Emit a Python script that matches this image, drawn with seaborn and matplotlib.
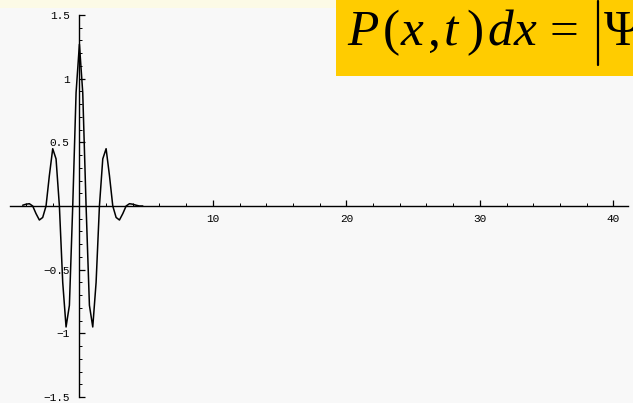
import numpy as np
import matplotlib
matplotlib.use('Agg')
import matplotlib.pyplot as plt
import seaborn as sns
from matplotlib.patches import Rectangle
from matplotlib.lines import Line2D
from matplotlib.ticker import FixedLocator, MultipleLocator, FixedFormatter

# wave packet values
x_vals = [-4.25, -4.0, -3.75, -3.5, -3.25, -3.0, -2.75, -2.5, -2.25, -2.0,
          -1.75, -1.5, -1.25, -1.0, -0.75, -0.5, -0.25, 0.0, 0.25, 0.5,
          0.75, 1.0, 1.25, 1.5, 1.75, 2.0, 2.25, 2.5, 2.75, 3.0,
          3.25, 3.5, 3.75, 4.0, 4.25, 4.5, 4.75]
y_vals = [0.006, 0.014, 0.018, 0.0, -0.06, -0.11, -0.09, 0.0, 0.24, 0.45,
          0.37, 0.0, -0.60, -0.95, -0.78, 0.0, 0.89, 1.27, 0.89, 0.0,
          -0.78, -0.95, -0.60, 0.0, 0.37, 0.45, 0.24, 0.0, -0.09, -0.11,
          -0.06, 0.0, 0.018, 0.014, 0.006, 0.0, 0.0]

x_major = [10, 20, 30, 40]
x_labels = ['10', '20', '30', '40']
y_major = [-1.5, -1.0, -0.5, 0.5, 1.0, 1.5]
y_labels = ['\u22121.5', '\u22121', '\u22120.5', '0.5', '1', '1.5']

# formula pieces: glyph, italic?, left edge in pixels
formula = [('P', True, 347), ('(', False, 383), ('x', True, 401), (',', False, 428),
           ('t', True, 444), (')', False, 466), ('d', True, 487), ('x', True, 514),
           ('=', False, 550), ('\u03a8', False, 604)]

sns.set_style('white')

W, H = 633, 403
fig = plt.figure(figsize=(W / 100, H / 100), dpi=100)
fig.patch.set_facecolor('#f8f8f8')

ax = fig.add_axes([10 / W, 6 / H, 618 / W, 382 / H])
ax.set_facecolor('none')

sns.lineplot(x=x_vals, y=y_vals, ax=ax, color='black', linewidth=1.1, sort=False)

ax.set_xlim(-5.2, 41.1)
ax.set_ylim(-1.5, 1.5)

for s in ['top', 'right']:
    ax.spines[s].set_visible(False)
ax.spines['left'].set_position(('data', 0))
ax.spines['bottom'].set_position(('data', 0))
for s in ['left', 'bottom']:
    ax.spines[s].set_color('black')
    ax.spines[s].set_linewidth(1.0)

ax.xaxis.set_major_locator(FixedLocator(x_major))
ax.xaxis.set_major_formatter(FixedFormatter(x_labels))
ax.xaxis.set_minor_locator(MultipleLocator(2))
ax.yaxis.set_major_locator(FixedLocator(y_major))
ax.yaxis.set_major_formatter(FixedFormatter(y_labels))
ax.yaxis.set_minor_locator(MultipleLocator(0.1))

ax.tick_params(which='both', bottom=True, left=True, top=False, right=False)
ax.tick_params(which='major', direction='in', length=4.5, width=0.9, color='black',
               labelsize=8, labelcolor='black')
ax.tick_params(which='minor', direction='in', length=2.5, width=0.7, color='black')
ax.tick_params(axis='x', which='major', pad=6)
ax.tick_params(axis='y', which='major', pad=7)
for lab in ax.get_xticklabels() + ax.get_yticklabels():
    lab.set_fontfamily('Liberation Mono')

ax.set_xlabel('')
ax.set_ylabel('')

# cream band at the top and the yellow formula box (cut off at the right edge, as in the slide)
fig.patches.append(Rectangle((0, 1 - 8 / H), 1, 8 / H, transform=fig.transFigure,
                             facecolor='#fcfae6', edgecolor='none', zorder=1))
fig.patches.append(Rectangle((336 / W, 1 - 76 / H), 297 / W, 76 / H,
                             transform=fig.transFigure, facecolor='#ffcc00',
                             edgecolor='none', zorder=2))
for glyph, italic, px in formula:
    fig.text(px / W, 1 - 45 / H, glyph, fontsize=37, family='Liberation Serif',
             style='italic' if italic else 'normal', color='black',
             va='baseline', ha='left', zorder=3)
fig.lines.append(Line2D([598 / W, 598 / W], [1 - 1 / H, 1 - 65 / H],
                        transform=fig.transFigure, color='black', linewidth=1.6,
                        zorder=3))

fig.savefig('out.png', dpi=100, facecolor=fig.get_facecolor())
